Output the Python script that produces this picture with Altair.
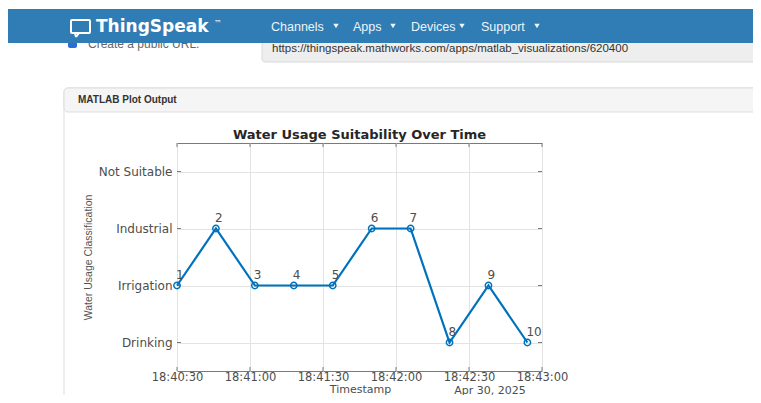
import altair as alt
import pandas as pd

# ---------------- data ----------------
timestamps = [
    "2025-04-30T18:40:30", "2025-04-30T18:40:46", "2025-04-30T18:41:02",
    "2025-04-30T18:41:18", "2025-04-30T18:41:34", "2025-04-30T18:41:50",
    "2025-04-30T18:42:06", "2025-04-30T18:42:22", "2025-04-30T18:42:38",
    "2025-04-30T18:42:54",
]
classes = [1, 2, 1, 1, 1, 2, 2, 0, 1, 0]
point_ids = list(range(1, 11))
class_names = ["Drinking", "Irrigation", "Industrial", "Not Suitable"]
x_tick_seconds = [(40, 30), (41, 0), (41, 30), (42, 0), (42, 30), (43, 0)]
nav_items = ["Channels", "Apps", "Devices", "Support"]

df = pd.DataFrame({"t": timestamps, "v": classes, "id": [str(i) for i in point_ids]})
tick_df = pd.DataFrame({"t": ["2025-04-30T18:%02d:%02d" % ms for ms in x_tick_seconds]})
ytick_df = pd.DataFrame({"v": list(range(len(class_names)))})

W, H = 365, 228
BLUE = "#0072BD"
AX = "#7a7a7a"


def dt(m, s):
    return alt.DateTime(year=2025, month=4, date=30, hours=18, minutes=m, seconds=s)


label_expr = "".join(
    "datum.value == %d ? '%s' : " % (i, n) for i, n in enumerate(class_names)
) + "''"

x_scale = alt.Scale(domain=[dt(40, 30), dt(43, 0)])
y_scale = alt.Scale(domain=[-0.5, 3.5])

x_axis = alt.Axis(
    values=[dt(m, s) for m, s in x_tick_seconds], format="%H:%M:%S",
    grid=True, gridColor="#e3e3e3", ticks=False, domain=False,
    labelFont="DejaVu Sans", labelFontSize=11.5, labelColor="#4d4d4d",
    labelPadding=0, labelFlush=False, labelOverlap=False,
    title="Timestamp", titleFont="DejaVu Sans", titleFontSize=11,
    titleFontWeight="normal", titleColor="#4d4d4d",
    titleX=183, titleY=21.5, titleAlign="center", titleBaseline="alphabetic",
)
y_axis = alt.Axis(
    values=list(range(len(class_names))), labelExpr=label_expr,
    grid=True, gridColor="#e3e3e3", ticks=False, domain=False,
    labelFont="DejaVu Sans", labelFontSize=12, labelColor="#4d4d4d",
    labelPadding=5,
    title="Water Usage Classification", titleFont="Liberation Sans",
    titleFontSize=10.5, titleFontWeight="normal", titleColor="#555555",
    titleAngle=270, titleX=-89, titleY=114, titleAlign="center",
    titleBaseline="middle",
)

X = alt.X("t:T", scale=x_scale, axis=x_axis)
Y = alt.Y("v:Q", scale=y_scale, axis=y_axis)

one = alt.Data(values=[{"a": 1}])


def rect(x, x2, y, y2, **kw):
    return alt.Chart(one).mark_rect(**kw).encode(
        x=alt.value(x), x2=alt.value(x2), y=alt.value(y), y2=alt.value(y2))


def text(s, x, y, **kw):
    return alt.Chart(one).mark_text(text=s, **kw).encode(x=alt.value(x), y=alt.value(y))


def rule(x, x2, y, y2, **kw):
    return alt.Chart(one).mark_rule(**kw).encode(
        x=alt.value(x), x2=alt.value(x2), y=alt.value(y), y2=alt.value(y2))


# ---------------- page chrome (coordinates relative to plot origin) ----------------
chrome = [
    # panel
    rect(-113, 640, -55, 300, fill="white", fillOpacity=0, stroke="#dddddd", strokeWidth=1, cornerRadius=4),
    rect(-113, 640, -55, -31, fill="#f5f5f5", stroke="#dddddd", strokeWidth=1, cornerRadius=4),
    text("MATLAB Plot Output", -99, -43, align="left", baseline="middle",
         font="Liberation Sans", fontSize=10, fontWeight="bold", color="#333333"),
    # url box
    rect(85, 640, -112, -81, fill="#eeeeee", stroke="#d9d9d9", strokeWidth=1, cornerRadius=3),
    text("https://thingspeak.mathworks.com/apps/matlab_visualizations/620400", 95, -94,
         align="left", baseline="middle", font="Liberation Sans", fontSize=11.5, color="#333333"),
    # checkbox row (partly hidden under the header)
    rect(-109, -100, -106, -95, fill="#2b6fd6", cornerRadius=2),
    text("Create a public URL.", -89, -95.5, align="left", baseline="alphabetic",
         font="Liberation Sans", fontSize=12, color="#666666"),
    # header bar
    rect(-169, 640, -134, -100, fill="#2f7db4"),
    rect(-106, -87, -123, -110, fill="#2f7db4", stroke="white", strokeWidth=2, cornerRadius=1),
    rule(-102, -101, -110, -106, color="white", strokeWidth=2),
    rule(-101, -98, -106, -110, color="white", strokeWidth=2),
    text("ThingSpeak", -81, -111.5, align="left", baseline="alphabetic",
         font="DejaVu Sans", fontSize=17, fontWeight="bold", color="white"),
    text("™", 37, -119, align="left", baseline="middle",
         font="DejaVu Sans", fontSize=8, color="white"),
]
nav_x = [94, 176, 234, 304]
tri_x = [159, 216, 285, 360]
for name, nx, tx in zip(nav_items, nav_x, tri_x):
    chrome.append(text(name, nx, -112.5, align="left", baseline="alphabetic",
                       font="Liberation Sans", fontSize=12.5, color="#eef4fa"))
    chrome.append(alt.Chart(one).mark_point(shape="triangle-down", filled=True, size=30,
                                            color="#eef4fa", opacity=1)
                  .encode(x=alt.value(tx), y=alt.value(-117)))

# ---------------- plot ----------------
line = alt.Chart(df).mark_line(color=BLUE, strokeWidth=2.2).encode(x=X, y=Y)
pts = alt.Chart(df).mark_point(shape="circle", filled=False, size=40, strokeWidth=1.5,
                               color=BLUE, opacity=1).encode(x=X, y=Y)
labels = alt.Chart(df).mark_text(align="left", baseline="middle", dx=-1, dy=-11,
                                 font="DejaVu Sans", fontSize=12, color="#4d4d4d").encode(
    x=X, y=Y, text="id:N")

xt_bottom = alt.Chart(tick_df).mark_rule(color=AX).encode(x=X, y=alt.value(H), y2=alt.value(H - 4))
xt_top = alt.Chart(tick_df).mark_rule(color=AX).encode(x=X, y=alt.value(0), y2=alt.value(4))
yt_left = alt.Chart(ytick_df).mark_rule(color=AX).encode(y=Y, x=alt.value(0), x2=alt.value(4))
yt_right = alt.Chart(ytick_df).mark_rule(color=AX).encode(y=Y, x=alt.value(W), x2=alt.value(W - 4))

date_text = text("Apr 30, 2025", 313, 250.5, align="center", baseline="alphabetic",
                 font="DejaVu Sans", fontSize=11, color="#4d4d4d")
title_text = text("Water Usage Suitability Over Time", W / 2, -4, align="center",
                  baseline="alphabetic", font="DejaVu Sans", fontSize=13,
                  fontWeight="bold", color="#262626")

chart = alt.layer(
    *chrome, xt_bottom, xt_top, yt_left, yt_right, line, pts, labels, date_text, title_text
).properties(
    width=W, height=H,
    padding={"left": 169, "top": 135, "right": 211, "bottom": 24},
    autosize=alt.AutoSizeParams(type="none"),
    background="white",
).configure_view(stroke=AX, strokeWidth=1)

chart.save("out.html", embed_options={"renderer": "svg", "actions": False})
